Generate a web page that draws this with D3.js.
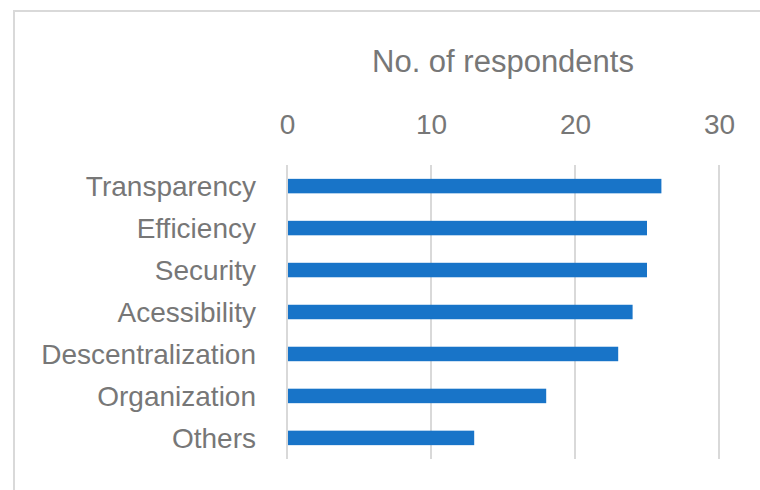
<!DOCTYPE html>
<html>
<head>
<meta charset="utf-8">
<script src="https://cdn.jsdelivr.net/npm/d3@7"></script>
<style>
  html, body { margin: 0; padding: 0; background: #fff; }
  svg { display: block; }
  text { font-family: "Liberation Sans", Arial, sans-serif; fill: #777777; }
</style>
</head>
<body>
<svg id="chart" width="760" height="490"></svg>
<script>
// Reasons given, ordered top to bottom
const categories = ["Transparency", "Efficiency", "Security", "Acessibility",
                    "Descentralization", "Organization", "Others"];
const respondents = [26, 25, 25, 24, 23, 18, 13];
const tickValues = [0, 10, 20, 30];
const axisTitle = "No. of respondents";

const width = 760, height = 490;
const margin = { top: 165, right: 41, bottom: 31, left: 287 };

const svg = d3.select("#chart");

// chart area frame
svg.append("rect")
  .attr("x", 14).attr("y", 11)
  .attr("width", width + 20).attr("height", height + 20)
  .attr("fill", "none")
  .attr("stroke", "#d9d9d9")
  .attr("stroke-width", 2);

const x = d3.scaleLinear()
  .domain([0, 30])
  .range([margin.left, width - margin.right]);

const y = d3.scaleBand()
  .domain(categories)
  .range([margin.top, height - margin.bottom])
  .paddingInner(0.655)
  .paddingOuter(0.33);

// vertical gridlines
svg.append("g")
  .selectAll("line")
  .data(tickValues)
  .join("line")
  .attr("x1", d => x(d)).attr("x2", d => x(d))
  .attr("y1", margin.top).attr("y2", height - margin.bottom)
  .attr("stroke", "#d9d9d9")
  .attr("stroke-width", 2);

// top value axis
const xAxis = svg.append("g")
  .attr("transform", `translate(0,${margin.top})`)
  .call(d3.axisTop(x).tickValues(tickValues).tickSize(0).tickPadding(0));
xAxis.select(".domain").remove();
xAxis.selectAll("text")
  .attr("y", -31)
  .attr("dy", 0)
  .style("font-size", "28px")
  .style("font-family", "'Liberation Sans', Arial, sans-serif")
  .attr("fill", "#777777");

// category axis
const yAxis = svg.append("g")
  .attr("transform", `translate(${margin.left},0)`)
  .call(d3.axisLeft(y).tickSize(0).tickPadding(31));
yAxis.select(".domain").remove();
yAxis.selectAll("text")
  .attr("dy", "0.35em")
  .style("font-size", "28px")
  .style("font-family", "'Liberation Sans', Arial, sans-serif")
  .attr("fill", "#777777");

// bars
svg.append("g")
  .selectAll("rect")
  .data(categories.map((c, i) => ({ c, v: respondents[i] })))
  .join("rect")
  .attr("x", x(0) + 1)
  .attr("y", d => y(d.c))
  .attr("width", d => x(d.v) - x(0) - 1)
  .attr("height", y.bandwidth())
  .attr("fill", "#1874c8");

// axis title
svg.append("text")
  .attr("x", (x(0) + x(30)) / 2)
  .attr("y", 72)
  .attr("text-anchor", "middle")
  .style("font-size", "31px")
  .text(axisTitle);
</script>
</body>
</html>
